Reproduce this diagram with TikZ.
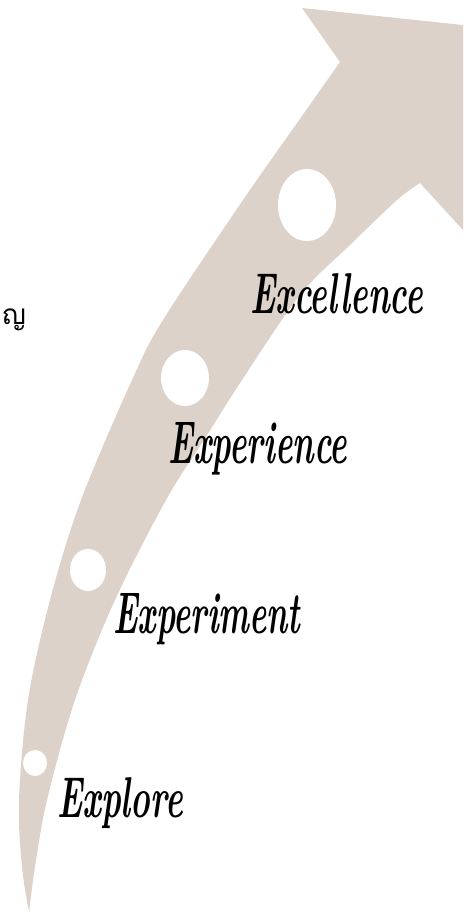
\documentclass[tikz,border=0pt]{standalone}
\usepackage{fontspec}
\newfontfamily\thaifont[Script=Thai]{Loma}
\definecolor{arrowbeige}{RGB}{221,210,202}
\tikzset{
  steplabel/.style={anchor=base west, inner sep=0pt, font=\bfseries\itshape},
  hole/.style={fill=white}
}
\begin{document}
\begin{tikzpicture}[x=1pt,y=-1pt]
\useasboundingbox (0,0) rectangle (466,914);
% curved arrow
\fill[arrowbeige]
  plot[smooth, tension=0.55] coordinates {(29,912) (22,867) (19,800) (28,700) (50,600) (81,500) (132,380) (163,320) (243,200) (290,133) (340,62)}
  -- (302,8) -- (463,25) -- (463,230) -- (420,183)
  -- plot[smooth, tension=0.55] coordinates {(420,183) (397,200) (350,245) (300,295) (242,380) (204,440) (166,500) (115,600) (75,700) (47,800) (35,867) (29,912)}
  -- cycle;
% holes
\fill[hole] (307,205) ellipse [x radius=29, y radius=36];
\fill[hole] (185,378) ellipse [x radius=24, y radius=28];
\fill[hole] (88,570) ellipse [x radius=18, y radius=21];
\fill[hole] (35,763) ellipse [x radius=12, y radius=13];
% labels
\node[steplabel] (excellence) at (250,313) {\resizebox{173pt}{40pt}{Excellence}};
\node[steplabel] (experience) at (168,463) {\resizebox{179pt}{41pt}{Experience}};
\node[steplabel] (experiment) at (113,633) {\resizebox{187pt}{40pt}{Experiment}};
\node[steplabel] (explore) at (57,817) {\resizebox{126pt}{40pt}{Explore}};
\node[inner sep=0pt, anchor=west] (thai) at (2,320) {\thaifont\fontsize{28}{32}\selectfont ญ};
\end{tikzpicture}
\end{document}
